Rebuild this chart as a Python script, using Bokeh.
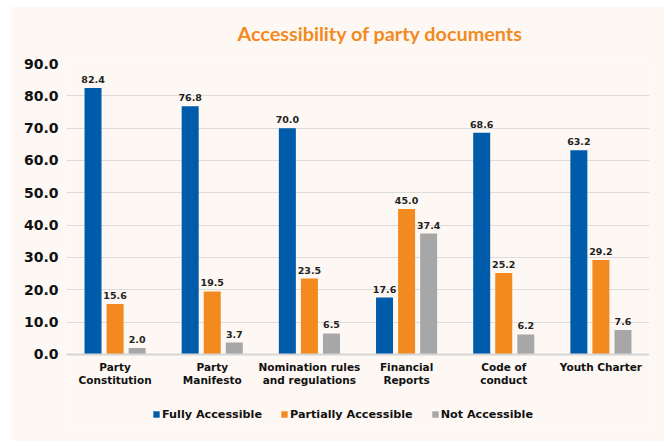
from bokeh.plotting import figure
from bokeh.models import (ColumnDataSource, FactorRange, Range1d, FixedTicker,
                          PrintfTickFormatter, Title, Legend, LegendItem, Span)
from bokeh.transform import dodge
from bokeh.core.properties import value
from bokeh.embed import file_html
from bokeh.resources import INLINE

categories = ["Party\nConstitution", "Party\nManifesto", "Nomination rules\nand regulations",
              "Financial\nReports", "Code of\nconduct", "Youth Charter"]
fully = [82.4, 76.8, 70.0, 17.6, 68.6, 63.2]
partially = [15.6, 19.5, 23.5, 45.0, 25.2, 29.2]
not_acc = [2.0, 3.7, 6.5, 37.4, 6.2, 7.6]
series_names = ["Fully Accessible", "Partially Accessible", "Not Accessible"]
y_ticks = [0, 10, 20, 30, 40, 50, 60, 70, 80, 90]

CREAM = "#fdf8f4"
BLUE = "#005baa"
ORANGE = "#f28a1f"
GRAY = "#a7a7a7"
FONT = "DejaVu Sans"
TITLE_FONT = "Lato"

src = ColumnDataSource(dict(
    cat=categories, fully=fully, partially=partially, not_acc=not_acc,
    base=[0] * len(categories),
    fully_t=[f"{v:.1f}" for v in fully],
    partially_t=[f"{v:.1f}" for v in partially],
    not_t=[f"{v:.1f}" for v in not_acc],
))

p = figure(width=653, height=435, x_range=FactorRange(factors=categories),
           y_range=Range1d(-23.2, 90), output_backend="svg", toolbar_location=None,
           min_border_left=55, min_border_right=15, min_border_top=57, min_border_bottom=12,
           background_fill_color=CREAM, border_fill_color=CREAM, outline_line_color=None,
           margin=(6, 0, 0, 11))

# real title (outermost)
p.title.text = "Accessibility of party documents"
p.title.align = "left"
p.title.offset = 171
p.title.text_font = TITLE_FONT
p.title.text_font_style = "bold"
p.title.text_font_size = "19.8px"
p.title.text_color = ORANGE

# spacer between the title and the frame
spacer = Title(text=" ", text_font_size="9px", standoff=2)
p.add_layout(spacer, "above")

off = 0.227
w = 0.175
cols = [("fully", BLUE, -off, "fully_t"), ("partially", ORANGE, 0, "partially_t"),
        ("not_acc", GRAY, off, "not_t")]
items = []
for (field, color, o, tfield), name in zip(cols, series_names):
    x = dodge("cat", o, range=p.x_range)
    r = p.vbar(x=x, top=field, width=w, source=src, fill_color=color, line_color=None)
    items.append(LegendItem(label=name, renderers=[r]))
    p.text(x=x, y=field, text=tfield, source=src, y_offset=-5,
           text_align="center", text_baseline="bottom", text_font=value(FONT),
           text_font_style="bold", text_font_size="9.5px", text_color="#231f20")

# category labels under the baseline
p.text(x="cat", y="base", text="cat", source=src, y_offset=7,
       text_align="center", text_baseline="top", text_font=value(FONT),
       text_font_style="bold", text_font_size="10.5px", text_color="#111111",
       text_line_height=1.05)

p.add_layout(Span(location=0, dimension="width", line_color="#d6d6d6", line_width=2))

p.xgrid.grid_line_color = None
p.xaxis.visible = False
p.ygrid.grid_line_color = "#dcdcdc"
p.ygrid.grid_line_width = 1
p.ygrid.ticker = FixedTicker(ticks=y_ticks[1:])

p.yaxis.ticker = FixedTicker(ticks=y_ticks)
p.yaxis.formatter = PrintfTickFormatter(format="%.1f")
p.yaxis.axis_line_color = None
p.yaxis.major_tick_line_color = None
p.yaxis.major_tick_out = 0
p.yaxis.major_tick_in = 0
p.yaxis.minor_tick_line_color = None
p.yaxis.major_label_standoff = 8
p.yaxis.major_label_text_font = FONT
p.yaxis.major_label_text_font_style = "bold"
p.yaxis.major_label_text_font_size = "14px"
p.yaxis.major_label_text_color = "#111111"

lg = Legend(items=items, location=(86, 8), orientation="horizontal",
            background_fill_alpha=0, border_line_color=None, padding=0, margin=0,
            spacing=18, label_standoff=2, glyph_width=8, glyph_height=8, label_height=14,
            label_text_font=FONT, label_text_font_style="bold", label_text_font_size="11.2px",
            label_text_color="#111111")
p.add_layout(lg, "center")

open("out.html", "w").write(file_html(p, INLINE))
